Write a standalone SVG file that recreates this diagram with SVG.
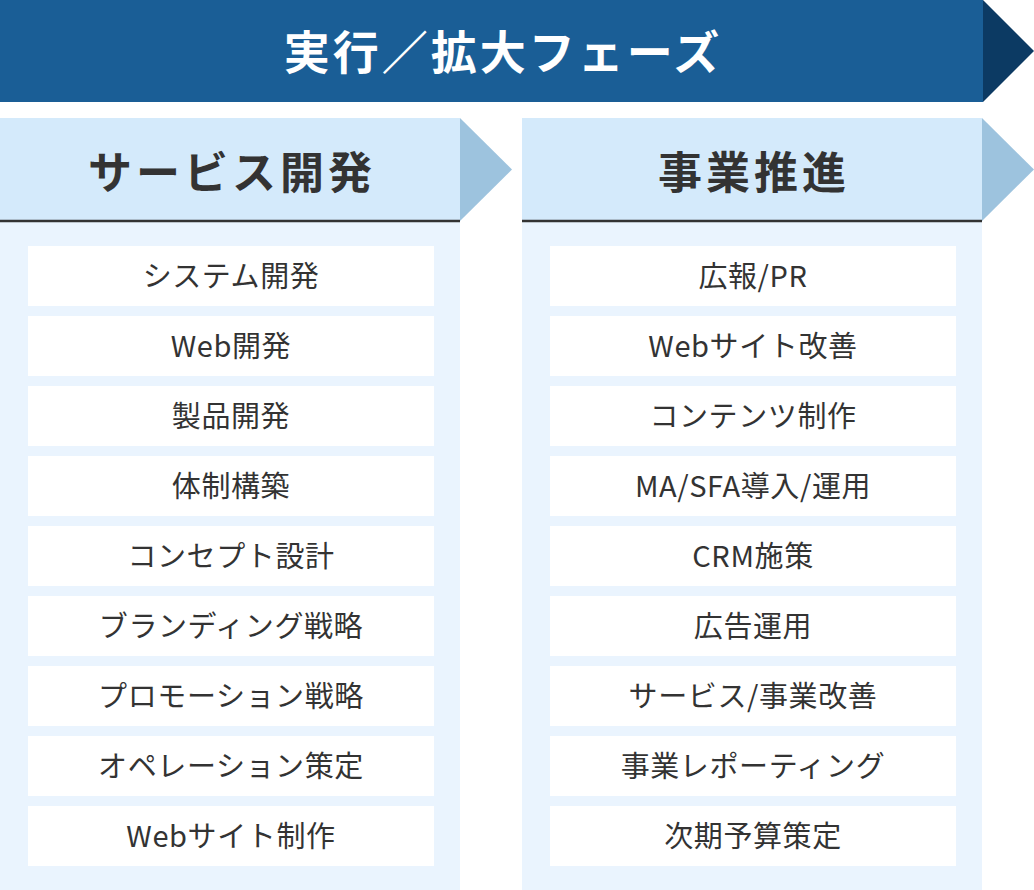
<svg xmlns="http://www.w3.org/2000/svg" width="1034" height="890" viewBox="0 0 1034 890">
<style>
.banner{fill:#1A5E96}
.bannerTip{fill:#0C3A63}
.hdr{fill:#D4EAFB}
.hdrTip{fill:#9DC3DE}
.body{fill:#EAF4FE}
.item{fill:#FFFFFF}
.rule{stroke:#333333;stroke-width:2.5}
text{font-family:"Noto Sans CJK JP","Noto Sans",sans-serif;text-anchor:middle}
.t-banner{fill:#FFFFFF;font-size:46px;font-weight:700;letter-spacing:3px}
.t-hdr{fill:#333333;font-size:44px;font-weight:700;letter-spacing:4px}
.t-item{fill:#333333;font-size:29px;font-weight:400;letter-spacing:0.6px}
</style>
<rect width="1034" height="890" fill="#FFFFFF"/>
<g id="phase-banner">
<rect class="banner" x="0" y="0" width="983" height="102"/>
<polygon class="bannerTip" points="983,0 1034,51 983,102"/>
<text class="t-banner" x="503" y="69">実行／拡大フェーズ</text>
</g>
<g id="col-service">
<rect class="body" x="0" y="220" width="460" height="670"/>
<rect class="hdr" x="0" y="118" width="460" height="103"/>
<polygon class="hdrTip" points="460,118 512,169.5 460,221"/>
<line class="rule" x1="0" y1="221" x2="460" y2="221"/>
<text class="t-hdr" x="232" y="189">サービス開発</text>
</g>
<g id="col-business">
<rect class="body" x="522" y="220" width="460" height="670"/>
<rect class="hdr" x="522" y="118" width="460" height="103"/>
<polygon class="hdrTip" points="982,118 1034,169.5 982,221"/>
<line class="rule" x1="522" y1="221" x2="982" y2="221"/>
<text class="t-hdr" x="754" y="189">事業推進</text>
</g>
<g id="items-service">
<g id="s1"><rect class="item" x="28" y="246" width="406" height="60"/><text class="t-item" x="231" y="287">システム開発</text></g>
<g id="s2"><rect class="item" x="28" y="316" width="406" height="60"/><text class="t-item" x="231" y="357">Web開発</text></g>
<g id="s3"><rect class="item" x="28" y="386" width="406" height="60"/><text class="t-item" x="231" y="427">製品開発</text></g>
<g id="s4"><rect class="item" x="28" y="456" width="406" height="60"/><text class="t-item" x="231" y="497">体制構築</text></g>
<g id="s5"><rect class="item" x="28" y="526" width="406" height="60"/><text class="t-item" x="231" y="567">コンセプト設計</text></g>
<g id="s6"><rect class="item" x="28" y="596" width="406" height="60"/><text class="t-item" x="231" y="637">ブランディング戦略</text></g>
<g id="s7"><rect class="item" x="28" y="666" width="406" height="60"/><text class="t-item" x="231" y="707">プロモーション戦略</text></g>
<g id="s8"><rect class="item" x="28" y="736" width="406" height="60"/><text class="t-item" x="231" y="777">オペレーション策定</text></g>
<g id="s9"><rect class="item" x="28" y="806" width="406" height="60"/><text class="t-item" x="231" y="847">Webサイト制作</text></g>
</g>
<g id="items-business">
<g id="b1"><rect class="item" x="550" y="246" width="406" height="60"/><text class="t-item" x="753" y="287">広報/PR</text></g>
<g id="b2"><rect class="item" x="550" y="316" width="406" height="60"/><text class="t-item" x="753" y="357">Webサイト改善</text></g>
<g id="b3"><rect class="item" x="550" y="386" width="406" height="60"/><text class="t-item" x="753" y="427">コンテンツ制作</text></g>
<g id="b4"><rect class="item" x="550" y="456" width="406" height="60"/><text class="t-item" x="753" y="497">MA/SFA導入/運用</text></g>
<g id="b5"><rect class="item" x="550" y="526" width="406" height="60"/><text class="t-item" x="753" y="567">CRM施策</text></g>
<g id="b6"><rect class="item" x="550" y="596" width="406" height="60"/><text class="t-item" x="753" y="637">広告運用</text></g>
<g id="b7"><rect class="item" x="550" y="666" width="406" height="60"/><text class="t-item" x="753" y="707">サービス/事業改善</text></g>
<g id="b8"><rect class="item" x="550" y="736" width="406" height="60"/><text class="t-item" x="753" y="777">事業レポーティング</text></g>
<g id="b9"><rect class="item" x="550" y="806" width="406" height="60"/><text class="t-item" x="753" y="847">次期予算策定</text></g>
</g>
<g id="connectors"></g>
</svg>
